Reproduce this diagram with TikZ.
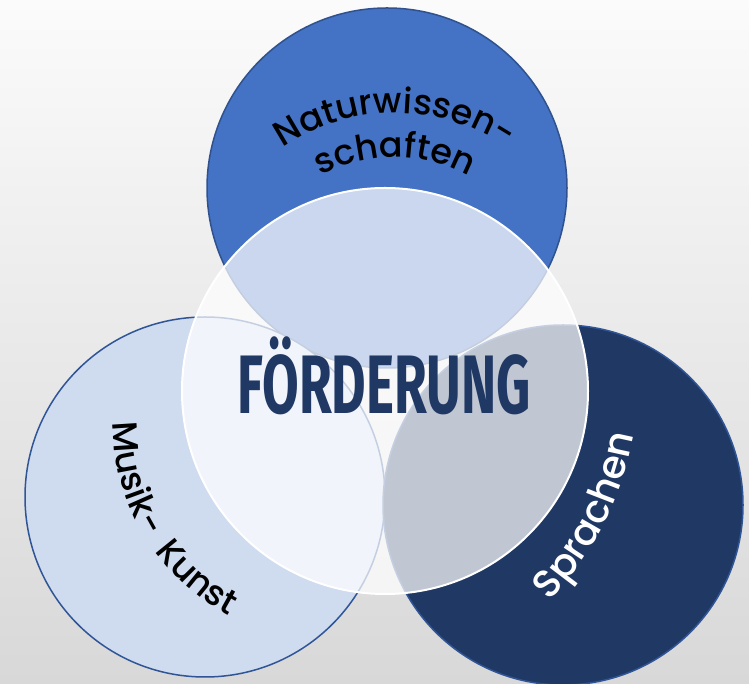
\documentclass[tikz,border=0pt]{standalone}
\usepackage{fontspec}
\usepackage{tikz}
\usepackage{xcolor}
\usetikzlibrary{decorations.text}
\newfontfamily\lblfont{Poppins Medium}
\newfontfamily\titlefont{Fira Sans}
\definecolor{natblue}{HTML}{4472C4}
\definecolor{natline}{HTML}{2F528F}
\definecolor{muslight}{HTML}{CFDBEF}
\definecolor{musline}{HTML}{2F5597}
\definecolor{sprnavy}{HTML}{203864}
\definecolor{bgtop}{HTML}{FBFBFB}
\definecolor{bgbot}{HTML}{D8D8D8}

\begin{document}
\begin{tikzpicture}[x=1pt,y=1pt]%
  \tikzstyle{cirn}=[circle,minimum size=360pt,inner sep=0,line width=1.5pt]
  \tikzstyle{cirw}=[circle,minimum size=406pt,inner sep=0,fill=white,fill opacity=0.72,draw=white,line width=2pt]
  \tikzstyle{bow}=[decorate,decoration={text along path,text align=center,text={#1}}]
  \useasboundingbox (0,0) rectangle (749,684);
  \clip (0,0) rectangle (749,684);
  \shade[top color=bgtop,bottom color=bgbot] (0,0) rectangle (749,684);
  \node(natw)[cirn,fill=natblue,draw=natline] at (387,496) {};
  \node(musik)[cirn,fill=muslight,draw=musline] at (205,187) {};
  \node(sprach)[cirn,fill=sprnavy,draw=musline] at (563,179) {};
  \node(mitte)[cirw] at (385,293) {};
  \node(foerd)[anchor=base,xscale=0.64,text=sprnavy,
    font=\titlefont\bfseries\fontsize{83}{90}\selectfont] at (384,270) {FÖRDERUNG};
  \coordinate(natc) at (395,371);
  \coordinate(musc) at (329,260);
  \coordinate(sprc) at (317,306);
  \path[bow={|\lblfont\fontsize{35}{35}\selectfont|Naturwissen-}]
    ([shift={(130:200)}]natc) arc[start angle=130,end angle=50,radius=200pt];
  \path[bow={|\lblfont\fontsize{35}{35}\selectfont|schaften}]
    ([shift={(122:156)}]natc) arc[start angle=122,end angle=58,radius=156pt];
  \path[bow={|\lblfont\fontsize{35}{35}\selectfont|Musik-{\kern16pt}Kunst}]
    ([shift={(166:216)}]musc) arc[start angle=166,end angle=256,radius=216pt];
  \path[bow={|\lblfont\fontsize{39}{39}\selectfont\color{white}|Sprachen}]
    ([shift={(-58:322)}]sprc) arc[start angle=-58,end angle=4,radius=322pt];
\end{tikzpicture}
\end{document}
